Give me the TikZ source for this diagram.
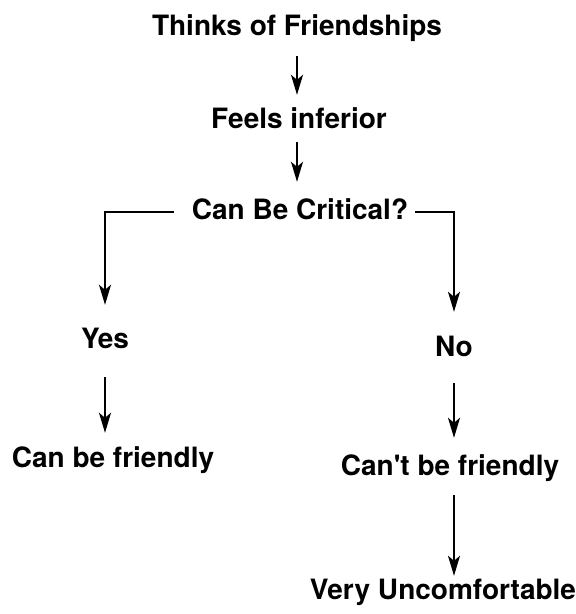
\documentclass[tikz,border=0pt]{standalone}
\usepackage{fontspec}
\setmainfont{TeX Gyre Heros}
\usepackage{tikz}
\usetikzlibrary{arrows.meta,positioning,calc}

\begin{document}
\begin{tikzpicture}[
    x=1pt, y=-1pt,
    label/.style={inner sep=0pt, anchor=base, text height=20pt, text depth=6pt, font=\fontsize{28}{32}\selectfont\bfseries},
    arrow/.style={-{Stealth[length=20pt,width=12pt,inset=5pt]}, line width=1.7pt}
]
\useasboundingbox (0,0) rectangle (576,614);

\node[label] (thinks) at (297,35) {Thinks of Friendships};
\node[label] (feels) at (299,128) {Feels inferior};
\node[label] (crit) at (300,219) {Can Be Critical?};
\node[label] (yes) at (105,348) {Yes};
\node[label] (no) at (454,356) {No};
\node[label] (canf) at (113,467) {Can be friendly};
\node[label] (cantf) at (450,475) {Can\textquotesingle t be friendly};
\node[label] (veryu) at (443,599) {Very Uncomfortable};

\draw[arrow, shorten <=15pt, shorten >=13pt] (thinks.south) -- (thinks.south |- feels.north);
\draw[arrow, shorten <=8pt, shorten >=17pt] (feels.south -| thinks) -- (crit.north -| thinks);
\draw[arrow, shorten <=18pt, shorten >=23pt] (crit.west) -| (yes.north);
\draw[arrow, shorten <=7pt, shorten >=24pt] (crit.east) -| (no.north);
\draw[arrow, shorten <=23pt, shorten >=14pt] (yes.south) -- (yes.south |- canf.north);
\draw[arrow, shorten <=21pt, shorten >=17pt] (no.south) -- (no.south |- cantf.north);
\draw[arrow, shorten <=14pt, shorten >=3pt] (cantf.south -| no) -- (veryu.north -| no);
\end{tikzpicture}
\end{document}
